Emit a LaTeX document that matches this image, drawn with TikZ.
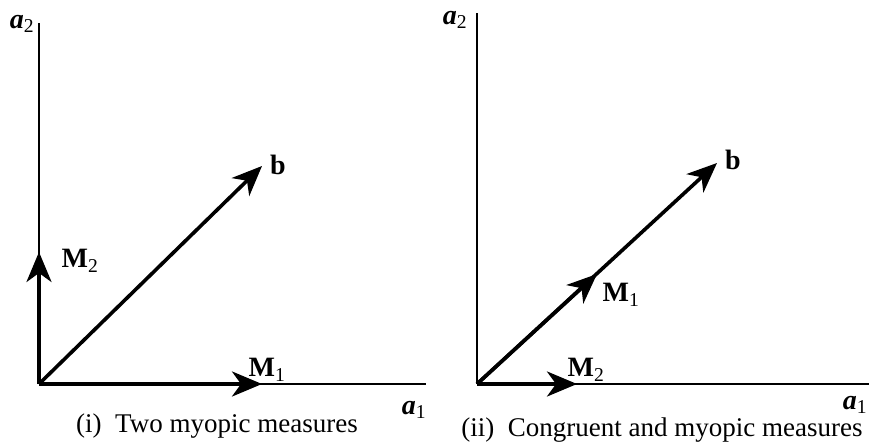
\documentclass[tikz,border=0pt]{standalone}
\usepackage{fontspec}
\setmainfont{Liberation Serif}
\usetikzlibrary{arrows.meta}

\begin{document}
\begin{tikzpicture}[x=1pt,y=-1pt,
  axis/.style={line width=1.3pt},
  vec/.style={line width=3.6pt,-{Stealth[length=30pt,width=25pt,inset=9pt]}},
  lbl/.style={inner sep=0pt,font=\fontsize{28}{30}\selectfont},
  captext/.style={inner sep=0pt,font=\fontsize{27}{30}\selectfont}]
\useasboundingbox (0,0) rectangle (869,443);

% (i) left panel
\coordinate (o1) at (39,384);
\coordinate (y1) at (39,23);
\coordinate (x1) at (426,384);
\coordinate (m1l) at (262,384);
\coordinate (m2l) at (39,252);
\coordinate (bl) at (262,166);

\draw[axis] (o1) -- (y1);
\draw[axis] (o1) -- (x1);
\draw[vec] (o1) -- (m1l);
\draw[vec] (o1) -- (m2l);
\draw[vec] (o1) -- (bl);

\node[lbl] (a2l) at (22,24) {{\bfseries\itshape a}\textsubscript{2}};
\node[lbl] (a1l) at (414,410) {{\bfseries\itshape a}\textsubscript{1}};
\node[lbl] (M1l) at (267,370) {\textbf{M}\textsubscript{1}};
\node[lbl] (M2l) at (80,261) {\textbf{M}\textsubscript{2}};
\node[lbl] (bll) at (278,165) {\textbf{b}};
\node[captext,anchor=base] (capl) at (217,432) {(i)\ \ Two myopic measures};

% (ii) right panel
\coordinate (o2) at (477,384);
\coordinate (y2) at (477,13);
\coordinate (x2) at (869,384);
\coordinate (m2r) at (577,384);
\coordinate (m1r) at (597,274);
\coordinate (br) at (717,163);

\draw[axis] (o2) -- (y2);
\draw[axis] (o2) -- (x2);
\draw[vec] (o2) -- (br);
\draw[vec] (o2) -- (m1r);
\draw[vec] (o2) -- (m2r);

\node[lbl] (a2r) at (455,20) {{\bfseries\itshape a}\textsubscript{2}};
\node[lbl] (a1r) at (855,405) {{\bfseries\itshape a}\textsubscript{1}};
\node[lbl] (M1r) at (621,295) {\textbf{M}\textsubscript{1}};
\node[lbl] (M2r) at (586,370) {\textbf{M}\textsubscript{2}};
\node[lbl] (brl) at (733,160) {\textbf{b}};
\node[captext,anchor=base] (capr) at (662,436) {(ii)\ \ Congruent and myopic measures};

\end{tikzpicture}
\end{document}
